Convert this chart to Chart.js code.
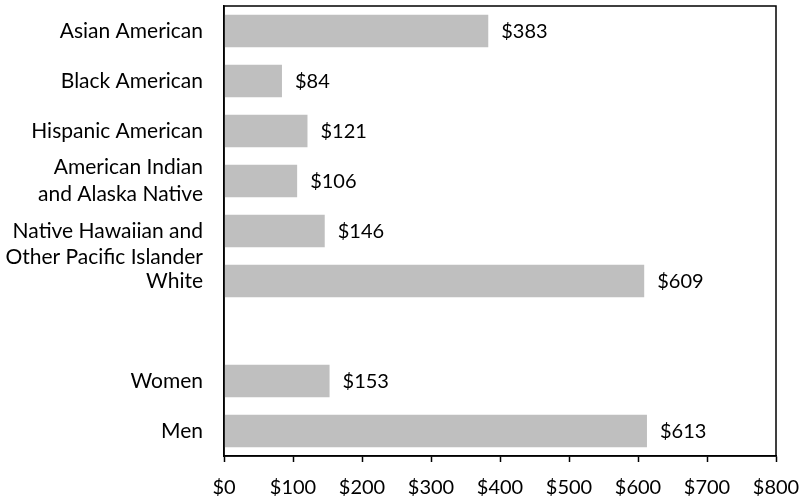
<!DOCTYPE html>
<html>
<head>
<meta charset="utf-8">
<script src="https://cdn.jsdelivr.net/npm/chart.js@4.4.1/dist/chart.umd.min.js"></script>
<style>
  html, body { margin: 0; padding: 0; background: #fff; }
  #wrap { width: 806px; height: 497px; }
</style>
</head>
<body>
<div id="wrap"><canvas id="c" width="806" height="497"></canvas></div>
<script>
const categories = [
  'Asian American',
  'Black American',
  'Hispanic American',
  ['American Indian', 'and Alaska Native'],
  ['', 'Native Hawaiian and', 'Other Pacific Islander'],
  'White',
  '',
  'Women',
  'Men'
];
const values = [383, 84, 121, 106, 146, 609, null, 153, 613];
const xMin = 0;
const xMax = 800;
const xStep = 100;

const FONT = 'Lato, "Open Sans", sans-serif';
const CAT_SIZE = 21;
const NUM_SIZE = 20;

const boxPlugin = {
  id: 'box',
  afterDraw(chart) {
    const a = chart.chartArea, ctx = chart.ctx;
    ctx.save();
    ctx.strokeStyle = '#000';
    ctx.lineWidth = 1.5;
    ctx.strokeRect(a.left, a.top, a.right - a.left, a.bottom - a.top);
    ctx.restore();
  }
};

const labelPlugin = {
  id: 'valueLabels',
  afterDatasetsDraw(chart) {
    const ctx = chart.ctx;
    const meta = chart.getDatasetMeta(0);
    ctx.save();
    ctx.font = NUM_SIZE + 'px ' + FONT;
    ctx.fillStyle = '#000';
    ctx.textAlign = 'left';
    ctx.textBaseline = 'middle';
    meta.data.forEach((bar, i) => {
      const v = values[i];
      if (v === null || v === undefined) return;
      ctx.fillText('$' + v, bar.x + 13, bar.y + 1);
    });
    ctx.restore();
  }
};

new Chart(document.getElementById('c'), {
  type: 'bar',
  data: {
    labels: categories,
    datasets: [{
      data: values,
      backgroundColor: '#BFBFBF',
      borderWidth: 0,
      barPercentage: 0.65,
      categoryPercentage: 1.0
    }]
  },
  options: {
    indexAxis: 'y',
    responsive: false,
    animation: false,
    devicePixelRatio: 1,
    layout: { padding: { left: 0, right: 30, top: 6, bottom: 0 } },
    plugins: {
      legend: { display: false },
      tooltip: { enabled: false }
    },
    scales: {
      x: {
        min: xMin,
        max: xMax,
        ticks: {
          stepSize: xStep,
          color: '#000',
          font: { family: FONT, size: NUM_SIZE },
          padding: 14,
          maxRotation: 0,
          autoSkip: false,
          callback: v => '$' + v
        },
        grid: {
          drawOnChartArea: false,
          drawTicks: true,
          tickLength: 6,
          tickColor: '#000',
          tickWidth: 1.5
        },
        border: { display: true, color: '#000', width: 1.5 },
        afterFit(scale) {
          scale.height = 497 - 456;
          scale.paddingLeft = 0; scale.paddingRight = 0;
          scale.paddingTop = 0; scale.paddingBottom = 0;
        }
      },
      y: {
        ticks: {
          color: '#000',
          font: { family: FONT, size: CAT_SIZE, lineHeight: 1.27 },
          padding: 21,
          autoSkip: false,
          crossAlign: 'near'
        },
        grid: { display: false, drawTicks: false },
        border: { display: true, color: '#000', width: 1.5 },
        afterFit(scale) {
          scale.width = 224;
          scale.paddingTop = 0; scale.paddingBottom = 0;
          scale.paddingLeft = 0; scale.paddingRight = 0;
        }
      }
    }
  },
  plugins: [boxPlugin, labelPlugin]
});
</script>
</body>
</html>
